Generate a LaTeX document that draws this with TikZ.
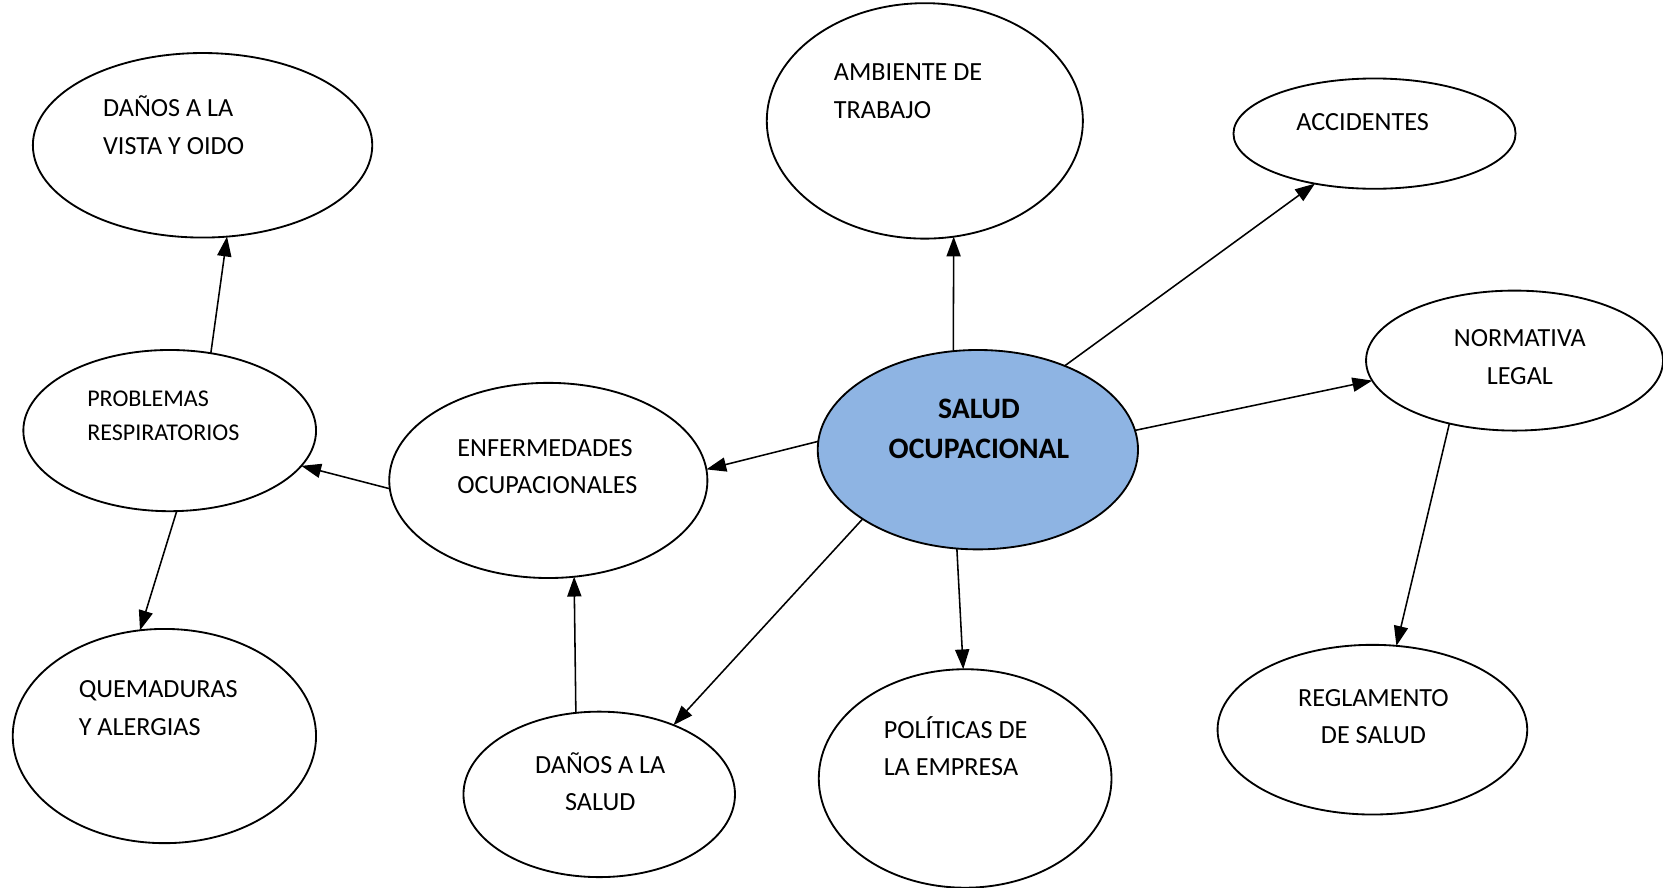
\documentclass[tikz,border=0pt]{standalone}
\usepackage{fontspec}
\setmainfont{Carlito}
\usetikzlibrary{shapes.geometric,arrows.meta}
\definecolor{centrefill}{RGB}{142,180,227}
\tikzset{
  bubble/.style 2 args={draw=black, line width=1.3pt, ellipse, inner sep=0pt, outer sep=0pt,
    minimum width=#1pt, minimum height=#2pt},
  lbl/.style={inner sep=0pt, anchor=base west, align=left,
    font=\fontsize{18.5}{26.5}\selectfont},
  clbl/.style={inner sep=0pt, anchor=base, align=center,
    font=\fontsize{18.5}{26.5}\selectfont},
  link/.style={line width=1.1pt, -{Triangle[length=14pt,width=10pt]}}
}
\begin{document}
\begin{tikzpicture}[x=0.75pt, y=-0.75pt]
\path[use as bounding box] (0,0) rectangle (1568,837);

% bubbles
\node[bubble={240}{130.5}] (vista) at (191,137) {};
\node[bubble={223.5}{166.5}] (ambiente) at (872,114) {};
\node[bubble={199.5}{78}] (accid) at (1296,126) {};
\node[bubble={210}{99}] (norma) at (1428,340) {};
\node[bubble={207}{114}] (resp) at (160,406) {};
\node[bubble={225}{138}] (enferm) at (517,453) {};
\node[bubble={226.5}{141}, fill=centrefill] (salud) at (922,424) {};
\node[bubble={214.5}{151.5}] (quem) at (155,694) {};
\node[bubble={192}{117}] (dsalud) at (565,749) {};
\node[bubble={207}{154.5}] (polit) at (910,734) {};
\node[bubble={219}{120}] (regla) at (1294,688) {};

% texts (anchored on the baseline of the last line)
\node[lbl] (tvista) at (97,145.3) {DAÑOS A LA\\VISTA Y OIDO};
\node[lbl] (tamb) at (786,111.3) {AMBIENTE DE\\TRABAJO};
\node[lbl] (tacc) at (1222,123) {ACCIDENTES};
\node[clbl] (tnorma) at (1433,362.3) {NORMATIVA\\LEGAL};
\node[lbl, font=\fontsize{17}{24}\selectfont] (tresp) at (82,415.5) {PROBLEMAS\\RESPIRATORIOS};
\node[lbl] (tenf) at (431,465.3) {ENFERMEDADES\\OCUPACIONALES};
\node[clbl, font=\fontsize{21}{28.5}\selectfont\bfseries] (tsalud) at (923,432.5) {SALUD\\OCUPACIONAL};
\node[lbl] (tquem) at (74,693.3) {QUEMADURAS\\Y ALERGIAS};
\node[clbl] (tdsal) at (566,764.3) {DAÑOS A LA\\SALUD};
\node[lbl] (tpol) at (833,731.3) {POLÍTICAS DE\\LA EMPRESA};
\node[clbl] (tregla) at (1295,701.3) {REGLAMENTO\\DE SALUD};

% connectors
\draw[link] (salud.104.3) -- (ambiente.-76.7);
\draw[link] (salud.44.6) -- (accid.220.9);
\draw[link] (salud.7.2) -- (norma.188.7);
\draw[link] (norma.224.1) -- (regla.74.8);
\draw[link] (salud.-102) -- (polit.91.7);
\draw[link] (salud.211.7) -- (dsalud.43.4);
\draw[link] (dsalud.106.5) -- (enferm.-75.4);
\draw[link] (salud.177.7) -- (enferm.4.6);
\draw[link] (enferm.183.4) -- (resp.-15.1);
\draw[link] (resp.62.8) -- (vista.-75.2);
\draw[link] (resp.-85.5) -- (quem.103.2);
\end{tikzpicture}
\end{document}
